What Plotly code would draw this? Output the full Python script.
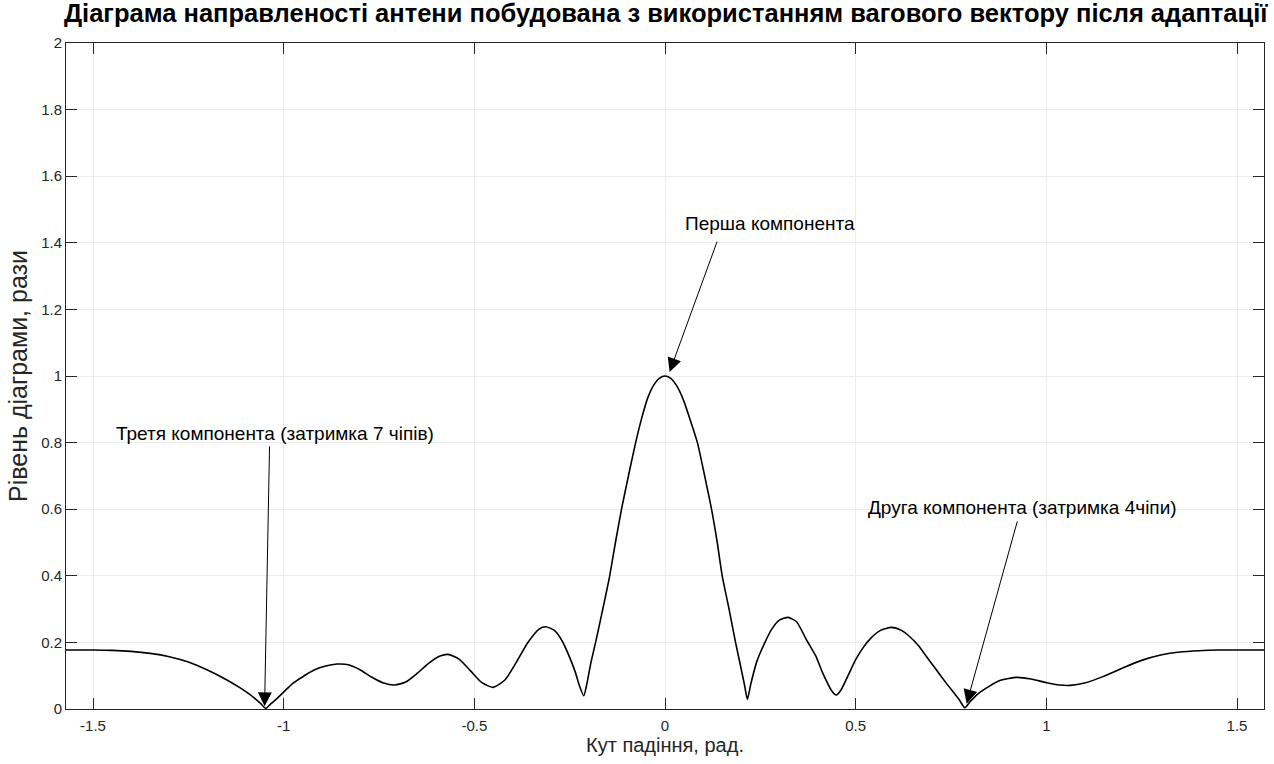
import plotly.graph_objects as go

# Кут падіння (рад.) та рівень діаграми направленості (рази)
angle = [
    -1.571, -1.50, -1.45, -1.40, -1.35, -1.30, -1.25, -1.20, -1.15, -1.115,
    -1.08, -1.06, -1.047, -1.035, -1.02, -0.99, -0.976, -0.95, -0.92, -0.89,
    -0.86, -0.83, -0.80, -0.77, -0.74, -0.709, -0.68, -0.65, -0.62, -0.59,
    -0.569, -0.54, -0.51, -0.48, -0.451, -0.42, -0.39, -0.36, -0.33, -0.313,
    -0.29, -0.27, -0.25, -0.235, -0.225, -0.213, -0.205, -0.195, -0.182, -0.165,
    -0.145, -0.13, -0.114, -0.095, -0.077, -0.06, -0.045, -0.03, -0.015, 0.0,
    0.015, 0.03, 0.047, 0.065, 0.085, 0.104, 0.122, 0.137, 0.150, 0.168,
    0.185, 0.198, 0.208, 0.216, 0.225, 0.24, 0.26, 0.28, 0.30, 0.323,
    0.345, 0.37, 0.395, 0.414, 0.437, 0.449, 0.462, 0.48, 0.50, 0.52,
    0.54, 0.565, 0.594, 0.62, 0.642, 0.665, 0.686, 0.71, 0.738, 0.76,
    0.772, 0.786, 0.80, 0.82, 0.85, 0.88, 0.922, 0.96, 1.00, 1.035,
    1.063, 1.10, 1.15, 1.20, 1.25, 1.30, 1.35, 1.40, 1.45, 1.50,
    1.571,
]
level = [
    0.177, 0.177, 0.176, 0.173, 0.167, 0.157, 0.141, 0.117, 0.088, 0.064,
    0.036, 0.016, 0.002, 0.014, 0.029, 0.062, 0.077, 0.097, 0.117, 0.129,
    0.135, 0.133, 0.118, 0.096, 0.079, 0.072, 0.081, 0.107, 0.137, 0.159,
    0.164, 0.150, 0.1145, 0.079, 0.065, 0.087, 0.140, 0.199, 0.240, 0.247,
    0.236, 0.205, 0.155, 0.110, 0.072, 0.040, 0.075, 0.135, 0.2, 0.29,
    0.4, 0.5, 0.6, 0.705, 0.8, 0.878, 0.935, 0.972, 0.993, 1.0,
    0.993, 0.972, 0.932, 0.872, 0.8, 0.7, 0.6, 0.5, 0.4, 0.3,
    0.2, 0.13, 0.075, 0.029, 0.075, 0.14, 0.195, 0.24, 0.267, 0.275,
    0.262, 0.21, 0.16, 0.107, 0.055, 0.042, 0.058, 0.10, 0.148, 0.185,
    0.213, 0.236, 0.245, 0.236, 0.217, 0.19, 0.157, 0.12, 0.077, 0.045,
    0.027, 0.004, 0.022, 0.045, 0.068, 0.086, 0.095, 0.090, 0.079, 0.072,
    0.071, 0.078, 0.098, 0.123, 0.146, 0.162, 0.171, 0.175, 0.177, 0.177,
    0.177,
]

x_tick_vals = [-1.5, -1, -0.5, 0, 0.5, 1, 1.5]
x_tick_text = ["-1.5", "-1", "-0.5", "0", "0.5", "1", "1.5"]
y_tick_vals = [0, 0.2, 0.4, 0.6, 0.8, 1, 1.2, 1.4, 1.6, 1.8, 2]
y_tick_text = ["0", "0.2", "0.4", "0.6", "0.8", "1", "1.2", "1.4", "1.6", "1.8", "2"]

# Підписи компонент: текст, положення тексту, початок і кінець стрілки
labels = [
    "Перша компонента",
    "Третя компонента (затримка 7 чіпів)",
    "Друга компонента (затримка 4чіпи)",
]
label_x = [0.275, -1.024, 0.938]
label_y = [1.457, 0.826, 0.604]
arrow_from_x = [0.138, -1.037, 0.925]
arrow_from_y = [1.408, 0.793, 0.568]
arrow_to_x = [0.012, -1.050, 0.791]
arrow_to_y = [1.012, 0.008, 0.016]

FONT = "Liberation Sans, Arial, sans-serif"
AXIS_COLOR = "#262626"

fig = go.Figure()
fig.add_trace(go.Scatter(
    x=angle, y=level, mode="lines",
    line=dict(color="black", width=1.6, shape="spline", smoothing=0.6),
    showlegend=False, hoverinfo="skip",
))

for i, txt in enumerate(labels):
    fig.add_annotation(
        x=label_x[i], y=label_y[i], xref="x", yref="y",
        text=txt, showarrow=False,
        font=dict(family=FONT, size=19, color="black"),
    )
    fig.add_annotation(
        x=arrow_to_x[i], y=arrow_to_y[i], xref="x", yref="y",
        ax=arrow_from_x[i], ay=arrow_from_y[i], axref="x", ayref="y",
        text="", showarrow=True, arrowhead=2, arrowsize=2.8,
        arrowwidth=1, arrowcolor="black",
    )

axis_common = dict(
    showline=True, linecolor=AXIS_COLOR, linewidth=1,
    mirror="ticks", ticks="inside", ticklen=11, tickcolor=AXIS_COLOR,
    showgrid=True, gridcolor="#ececec", gridwidth=1,
    zeroline=False,
    tickfont=dict(family=FONT, size=15, color=AXIS_COLOR),
)

fig.update_xaxes(
    range=[-1.5708, 1.5708],
    tickvals=x_tick_vals, ticktext=x_tick_text, ticklabelstandoff=3,
    title=dict(text="Кут падіння, рад.", font=dict(family=FONT, size=20, color=AXIS_COLOR), standoff=4),
    **axis_common,
)
fig.update_yaxes(
    range=[0, 2],
    tickvals=y_tick_vals, ticktext=y_tick_text,
    title=dict(text="Рівень діаграми, рази", font=dict(family=FONT, size=25, color=AXIS_COLOR), standoff=6),
    **axis_common,
)

fig.update_layout(
    width=1274, height=764,
    margin=dict(l=66, r=10, t=43, b=55),
    paper_bgcolor="white", plot_bgcolor="white",
    title=dict(
        text="<b>Діаграма направленості антени побудована з використанням вагового вектору після адаптації</b>",
        font=dict(family=FONT, size=25.5, color="black"),
        x=0.5225, xanchor="center", y=0.995, yanchor="top",
    ),
)

fig.write_html("out.html")
